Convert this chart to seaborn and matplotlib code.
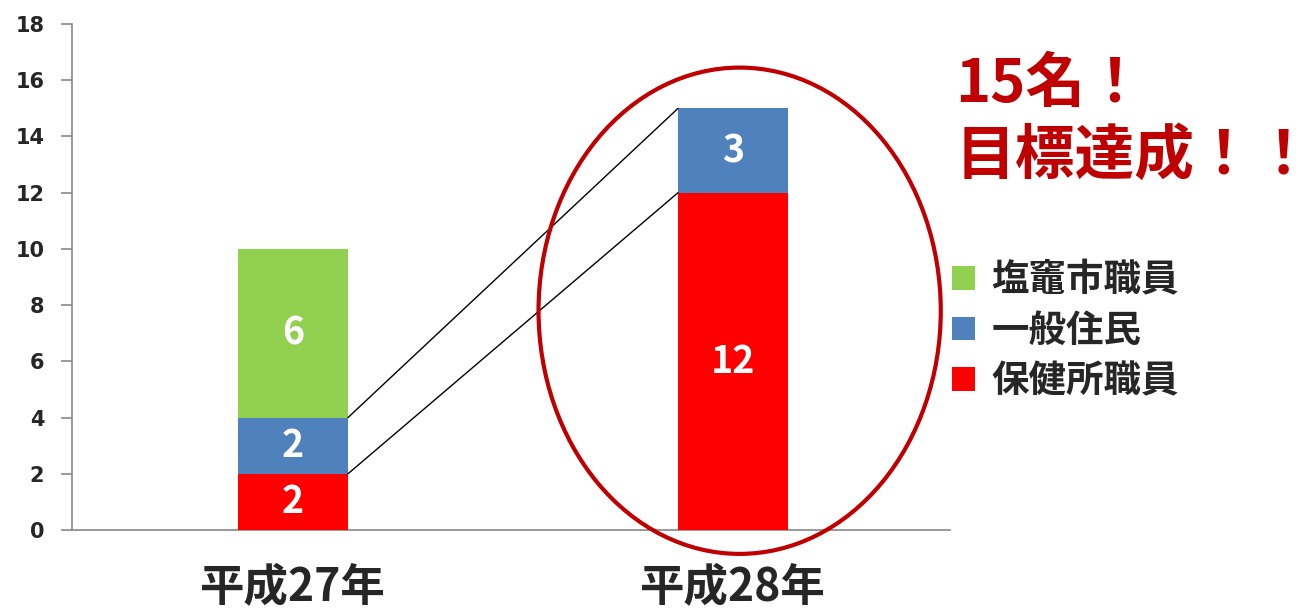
import numpy as np
import pandas as pd
import seaborn as sns
import matplotlib.pyplot as plt
from matplotlib.patches import Ellipse, Patch

# data
years = ["平成27年", "平成28年"]
hokenjo = [2, 12]      # 保健所職員
ippan = [2, 3]         # 一般住民
shiogama = [6, 0]      # 塩竈市職員
series_names = ["塩竈市職員", "一般住民", "保健所職員"]
colors = {"塩竈市職員": "#92D050", "一般住民": "#4F81BD", "保健所職員": "#FF0000"}
yticks = list(range(0, 19, 2))

sns.set_style("white")
plt.rcParams["font.family"] = ["Noto Sans CJK JP", "DejaVu Sans"]
plt.rcParams["font.weight"] = "bold"

df = pd.DataFrame({"year": years, "保健所職員": hokenjo, "一般住民": ippan, "塩竈市職員": shiogama})
df["c1"] = df["保健所職員"]
df["c2"] = df["c1"] + df["一般住民"]
df["c3"] = df["c2"] + df["塩竈市職員"]

fig = plt.figure(figsize=(13.12, 6.13), dpi=100)
ax = fig.add_axes([0.0549, 0.1354, 0.6692, 0.8254])

# stacked bars: draw the tallest first
for col, name in [("c3", "塩竈市職員"), ("c2", "一般住民"), ("c1", "保健所職員")]:
    sns.barplot(data=df, x="year", y=col, color=colors[name], width=0.25,
                saturation=1, linewidth=0, ax=ax, zorder=3)

ax.set_xlim(-0.502, 1.493)
ax.set_ylim(0, 18)
ax.set_yticks(yticks, [str(t) for t in yticks], fontsize=15, fontweight="bold",
              family="DejaVu Sans")
ax.set_xticks(range(len(years)), years, fontsize=32, fontweight="bold")
ax.set_xlabel("")
ax.set_ylabel("")
for s in ["top", "right"]:
    ax.spines[s].set_visible(False)
for s in ["left", "bottom"]:
    ax.spines[s].set_color("#888888")
    ax.spines[s].set_linewidth(1.2)
ax.tick_params(axis="y", left=True, length=8, color="#888888", width=1.2, pad=12)
ax.tick_params(axis="x", bottom=False, pad=22)

# values inside segments
for i in range(len(years)):
    bottoms = [0, hokenjo[i], hokenjo[i] + ippan[i]]
    for b, v in zip(bottoms, [hokenjo[i], ippan[i], shiogama[i]]):
        if v > 0:
            ax.text(i, b + v / 2, str(v), ha="center", va="center", color="white",
                    fontsize=27, fontweight="bold", zorder=5)

# connector lines
ax.plot([0.125, 0.875], [df["c2"][0], df["c2"][1]], color="black", lw=1, zorder=4)
ax.plot([0.125, 0.875], [df["c1"][0], df["c1"][1]], color="black", lw=1, zorder=4)

# ellipse around second bar
ell = Ellipse((1.015, 7.8), width=0.914, height=17.3, fill=False,
              edgecolor="#C00000", lw=3, clip_on=False, zorder=6)
ax.add_patch(ell)

# headline text
fig.text(0.728, 0.862, "15名！", color="#C00000", fontsize=43, fontweight="bold",
         ha="left", va="center")
fig.text(0.728, 0.745, "目標達成！！", color="#C00000", fontsize=43, fontweight="bold",
         ha="left", va="center")

handles = [Patch(facecolor=colors[n], edgecolor="none") for n in series_names]
fig.legend(handles, series_names, loc="upper left", bbox_to_anchor=(0.7, 0.63),
           frameon=False, prop={"size": 27, "weight": "bold"}, handlelength=0.6,
           handleheight=0.6, handletextpad=0.45, labelspacing=0.3)

fig.savefig("out.png", dpi=100)
